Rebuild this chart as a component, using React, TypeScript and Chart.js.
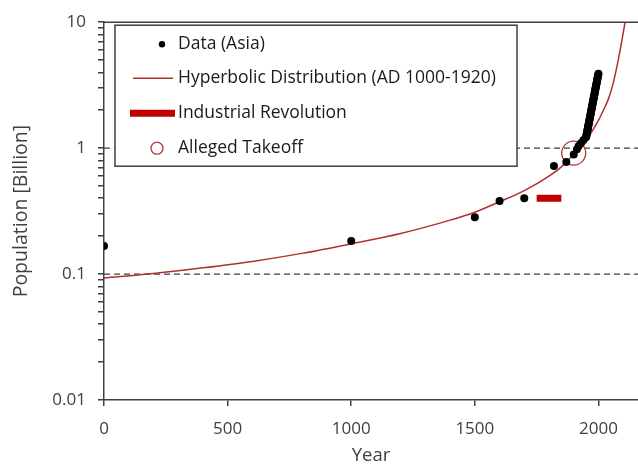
import React, { useEffect, useRef } from "react";
import { Chart, registerables } from "chart.js";

Chart.register(...registerables);

// ---- data ----
const ASIA_YEARS = [
  0, 1000, 1500, 1600, 1700, 1820, 1870, 1900, 1913, 1920, 1930, 1940,
  1950, 1951, 1952, 1953, 1954, 1955, 1956, 1957, 1958, 1959,
  1960, 1961, 1962, 1963, 1964, 1965, 1966, 1967, 1968, 1969,
  1970, 1971, 1972, 1973, 1974, 1975, 1976, 1977, 1978, 1979,
  1980, 1981, 1982, 1983, 1984, 1985, 1986, 1987, 1988, 1989,
  1990, 1991, 1992, 1993, 1994, 1995, 1996, 1997, 1998, 1999, 2000,
];
const ASIA_VALUES = [
  0.167, 0.183, 0.283, 0.38, 0.40, 0.72, 0.775, 0.89, 0.98, 1.04, 1.10, 1.16,
  1.22, 1.25, 1.28, 1.31, 1.34, 1.37, 1.40, 1.43, 1.47, 1.50,
  1.54, 1.57, 1.61, 1.65, 1.69, 1.73, 1.77, 1.81, 1.85, 1.90,
  1.94, 1.99, 2.04, 2.08, 2.13, 2.18, 2.23, 2.29, 2.34, 2.40,
  2.45, 2.51, 2.57, 2.63, 2.69, 2.76, 2.82, 2.89, 2.96, 3.03,
  3.10, 3.17, 3.25, 3.32, 3.40, 3.48, 3.56, 3.65, 3.73, 3.82, 3.90,
];

const HYP_YEARS = [
  0, 200, 400, 600, 800, 1000, 1200, 1400, 1500, 1600, 1700,
  1800, 1850, 1900, 1917, 1950, 1980, 2000, 2020, 2040, 2060, 2080, 2095, 2110,
];
const HYP_VALUES = [
  0.093, 0.101, 0.112, 0.126, 0.146, 0.174, 0.21, 0.268, 0.31, 0.375, 0.46,
  0.6, 0.71, 0.9, 1.0, 1.16, 1.42, 1.66, 2.0, 2.45, 3.3, 5.0, 7.2, 10.6,
];

const INDUSTRIAL_YEARS = [1750, 1850];
const INDUSTRIAL_VALUES = [0.4, 0.4];

const TAKEOFF_YEAR = [1900];
const TAKEOFF_VALUE = [0.913];

const REF_LEVELS = [1, 0.1];
const X_RANGE = [0, 2160];

const X_TICKS = [0, 500, 1000, 1500, 2000];
const Y_MAJOR = [0.01, 0.1, 1, 10];
const Y_MAJOR_LABELS = ["0.01", "0.1", "1", "10"];
const Y_MINOR_STEPS = [2, 3, 4, 5, 6, 7, 8, 9];

const LEGEND_LABELS = [
  "Data (Asia)",
  "Hyperbolic Distribution (AD 1000-1920)",
  "Industrial Revolution",
  "Alleged Takeoff",
];

const X_TITLE = "Year";
const Y_TITLE = "Population [Billion]";

const FONT = "'Open Sans', 'DejaVu Sans', sans-serif";
const AXIS_COLOR = "#404040";
const CURVE_COLOR = "#b0302f";
const TAKEOFF_COLOR = "#b03a3a";
const IND_COLOR = "#c00000";

const legendPlugin = {
  id: "boxLegend",
  afterDatasetsDraw(chart: any) {
    const { ctx, chartArea } = chart;
    const x0 = chartArea.left + 11;
    const y0 = chartArea.top + 3;
    const w = 402;
    const h = 141;
    ctx.save();
    ctx.fillStyle = "#ffffff";
    ctx.fillRect(x0, y0, w, h);
    ctx.strokeStyle = AXIS_COLOR;
    ctx.lineWidth = 1.5;
    ctx.strokeRect(x0, y0, w, h);
    const rows = [19, 53, 88, 123].map((d) => y0 + d);
    const tx = x0 + 63;
    ctx.fillStyle = "#000";
    ctx.beginPath();
    ctx.arc(x0 + 47, rows[0], 3.2, 0, Math.PI * 2);
    ctx.fill();
    ctx.strokeStyle = CURVE_COLOR;
    ctx.lineWidth = 1.5;
    ctx.beginPath();
    ctx.moveTo(x0 + 18, rows[1]);
    ctx.lineTo(x0 + 58, rows[1]);
    ctx.stroke();
    ctx.strokeStyle = IND_COLOR;
    ctx.lineWidth = 7;
    ctx.beginPath();
    ctx.moveTo(x0 + 15, rows[2]);
    ctx.lineTo(x0 + 60, rows[2]);
    ctx.stroke();
    ctx.strokeStyle = TAKEOFF_COLOR;
    ctx.lineWidth = 1.3;
    ctx.beginPath();
    ctx.arc(x0 + 42, rows[3], 6, 0, Math.PI * 2);
    ctx.stroke();
    ctx.fillStyle = "#1a1a1a";
    ctx.font = `17.5px ${FONT}`;
    ctx.textBaseline = "middle";
    ctx.textAlign = "left";
    LEGEND_LABELS.forEach((t, i) => ctx.fillText(t, tx, rows[i]));
    ctx.restore();
  },
  afterDraw(chart: any) {
    const { ctx, chartArea } = chart;
    ctx.save();
    ctx.strokeStyle = AXIS_COLOR;
    ctx.lineWidth = 1.5;
    ctx.beginPath();
    ctx.moveTo(chartArea.left, chartArea.top);
    ctx.lineTo(chartArea.right, chartArea.top);
    ctx.stroke();
    ctx.restore();
  },
};

export default function App() {
  const ref = useRef<HTMLCanvasElement | null>(null);
  useEffect(() => {
    if (!ref.current) return;
    const toPts = (xs: number[], ys: number[]) => xs.map((x, i) => ({ x, y: ys[i] }));
    const chart = new Chart(ref.current, {
      type: "scatter",
      data: {
        datasets: [
          {
            label: LEGEND_LABELS[0],
            data: toPts(ASIA_YEARS, ASIA_VALUES),
            pointRadius: 4,
            pointBackgroundColor: "#000",
            pointBorderWidth: 0,
            showLine: false,
            order: 0,
          },
          {
            label: LEGEND_LABELS[3],
            data: toPts(TAKEOFF_YEAR, TAKEOFF_VALUE),
            pointRadius: 12,
            pointBackgroundColor: "rgba(0,0,0,0)",
            pointBorderColor: TAKEOFF_COLOR,
            pointBorderWidth: 1.3,
            showLine: false,
            order: 1,
          },
          {
            label: LEGEND_LABELS[2],
            data: toPts(INDUSTRIAL_YEARS, INDUSTRIAL_VALUES),
            showLine: true,
            borderColor: IND_COLOR,
            borderWidth: 7,
            borderCapStyle: "butt",
            pointRadius: 0,
            order: 2,
          },
          {
            label: LEGEND_LABELS[1],
            data: toPts(HYP_YEARS, HYP_VALUES),
            showLine: true,
            borderColor: CURVE_COLOR,
            borderWidth: 1.5,
            pointRadius: 0,
            cubicInterpolationMode: "monotone",
            order: 3,
          },
          ...REF_LEVELS.map((lv) => ({
            label: "ref" + lv,
            data: X_RANGE.map((x) => ({ x, y: lv })),
            showLine: true,
            borderColor: AXIS_COLOR,
            borderWidth: 1.3,
            borderDash: [6, 4],
            pointRadius: 0,
            order: 4,
          })),
        ] as any,
      },
      options: {
        animation: false,
        responsive: false,
        layout: { autoPadding: false, padding: { top: 20, right: 0, left: 0, bottom: 0 } },
        plugins: { legend: { display: false }, tooltip: { enabled: false } },
        scales: {
          x: {
            type: "linear",
            min: X_RANGE[0],
            max: X_RANGE[1],
            afterBuildTicks: (s: any) => {
              s.ticks = X_TICKS.map((v) => ({ value: v }));
            },
            afterFit: (s: any) => {
              s.height = 68;
              s.paddingRight = 0;
              s.paddingLeft = 0;
            },
            ticks: {
              autoSkip: false,
              maxRotation: 0,
              padding: 13,
              color: AXIS_COLOR,
              font: { family: FONT, size: 17 },
              callback: (v: any) => String(v),
            },
            grid: {
              drawOnChartArea: false,
              color: AXIS_COLOR,
              lineWidth: 1.5,
              tickLength: 6,
            },
            border: { color: AXIS_COLOR, width: 1.5 },
            title: {
              display: true,
              text: X_TITLE,
              color: AXIS_COLOR,
              font: { family: FONT, size: 18.5 },
              padding: { top: 0, bottom: 1 },
            },
          },
          y: {
            type: "logarithmic",
            min: Y_MAJOR[0],
            max: Y_MAJOR[Y_MAJOR.length - 1],
            afterBuildTicks: (s: any) => {
              const t: any[] = [];
              Y_MAJOR.forEach((m, i) => {
                t.push({ value: m, major: true });
                if (i < Y_MAJOR.length - 1) {
                  Y_MINOR_STEPS.forEach((k) => t.push({ value: k * m, major: false }));
                }
              });
              s.ticks = t;
            },
            afterFit: (s: any) => {
              s.width = 104;
            },
            ticks: {
              autoSkip: false,
              padding: 12,
              color: AXIS_COLOR,
              font: { family: FONT, size: 17 },
              callback: (v: any, i: number, ticks: any[]) => {
                const idx = Y_MAJOR.findIndex((m) => Math.abs(m - ticks[i].value) < m * 1e-6);
                return idx >= 0 ? Y_MAJOR_LABELS[idx] : "";
              },
            },
            grid: {
              drawOnChartArea: false,
              color: AXIS_COLOR,
              lineWidth: 1.5,
              tickLength: 6,
            },
            border: { color: AXIS_COLOR, width: 1.5 },
            title: {
              display: true,
              text: Y_TITLE,
              color: AXIS_COLOR,
              font: { family: FONT, size: 19.5 },
              padding: { top: 10, bottom: 0 },
            },
          },
        },
      } as any,
      plugins: [legendPlugin],
    });
    return () => chart.destroy();
  }, []);
  return (
    <div style={{ position: "fixed", left: 0, top: 0, width: 638, height: 468, background: "#fff" }}>
      <canvas ref={ref} width={638} height={468} />
    </div>
  );
}
